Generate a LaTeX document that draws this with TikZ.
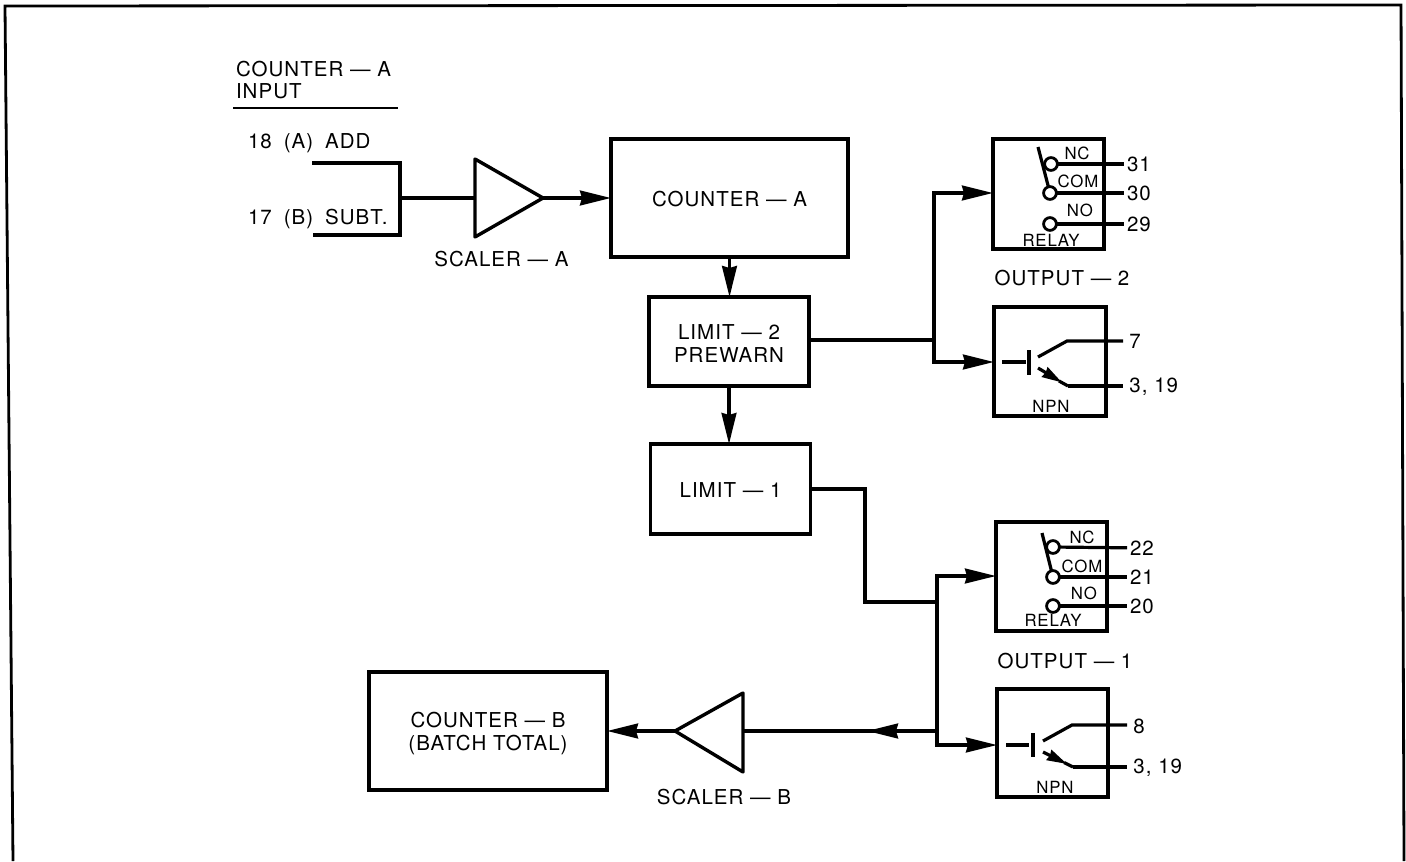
\documentclass[tikz,border=0pt]{standalone}
\usepackage{fontspec}
\setmainfont[LetterSpace=5]{TeX Gyre Heros}
\usetikzlibrary{arrows.meta}
\newcommand{\bl}{\fontsize{10.25}{11.7}\selectfont}
\newcommand{\sm}{\fontsize{8.4}{10}\selectfont}
\newcommand{\dn}[1]{\rule{0pt}{#1pt}}
\tikzset{
  x=0.5pt,y=-0.5pt,
  wire/.style={line width=1.6pt,line join=miter},
  head/.style={wire,-{Stealth[length=15.5pt,width=7.4pt,inset=1pt]}},
  smallhead/.style={wire,-{Stealth[length=10pt,width=5.5pt,inset=0.5pt]}},
  boxline/.style={line width=1.7pt},
  blockbox/.style={draw,boxline,inner sep=0pt,align=center,font=\bl,outer sep=0pt},
  lbl/.style={inner sep=0pt,outer sep=0pt,font=\bl,align=center},
  smlbl/.style={inner sep=0pt,outer sep=0pt,font=\sm},
  term/.style={inner sep=0pt,outer sep=1.5pt,font=\bl,anchor=west},
  termfar/.style={term,outer sep=3.2pt},
  contact/.style={circle,draw,line width=1.4pt,minimum size=6.4pt,inner sep=0pt,outer sep=0pt},
  frameline/.style={line width=1.4pt}
}
\begin{document}
\begin{tikzpicture}
\useasboundingbox (0,0) rectangle (1406,861);
% frame
\draw[frameline] (13,861) -- (5,6) -- (1401,5) -- (1404,861);
% input header
\node[lbl,anchor=west] (h1) at (236,69) {COUNTER — A};
\node[lbl,anchor=west] (h2) at (236,91) {INPUT};
\coordinate (ula) at (233,108);
\coordinate (ulb) at (398,108);
\draw[line width=0.9pt] (ula) -- (ulb);
\node[lbl,anchor=west] (inA) at (248,143) {18\hspace{6pt}(A)\hspace{6pt}ADD};
\node[lbl,anchor=west] (inB) at (248,219) {17\hspace{6pt}(B)\hspace{6pt}SUBT.};
% blocks
\node[blockbox,minimum width=118.5pt,minimum height=59pt] (ca) at (729.5,198) {\dn{8.3}COUNTER — A};
\node[blockbox,minimum width=80pt,minimum height=44.5pt] (l2) at (729,341.5) {\dn{9.5}LIMIT — 2\\PREWARN};
\node[blockbox,minimum width=80pt,minimum height=45pt] (l1) at (730.5,489) {\dn{8.3}LIMIT — 1};
\node[blockbox,minimum width=119pt,minimum height=59pt] (cb) at (488,731) {\dn{10.3}COUNTER — B\\(BATCH TOTAL)};
% scaler A
\coordinate (sai) at (475,198);
\coordinate (sao) at (543,198);
\draw[boxline,line join=round] (475,159) -- (sao) -- (475,237) -- cycle;
\node[lbl] (salbl) at (501.5,259) {SCALER — A};
% scaler B
\coordinate (sbi) at (743,731);
\coordinate (sbo) at (675,731);
\draw[boxline,line join=round] (743,693) -- (sbo) -- (743,772) -- cycle;
\node[lbl] (sblbl) at (724,797) {SCALER — B};
% input wires
\coordinate (ia) at (312,163);
\coordinate (ib) at (313,235);
\coordinate (ic) at (400,198);
\draw[wire] (ia) -- (ia -| ic) -- (ib -| ic) -- (ib);
\draw[wire] (ic) -- (sai);
\draw[head] (sao) -- (ca.west);
% block wires
\draw[head] (ca.south) -- (ca.south |- l2.north);
\draw[head] (l2.south) -- (l2.south |- l1.north);
% limit 2 outputs
\coordinate (j2) at (934,340);
\coordinate (r2in) at (993,193);
\coordinate (n2in) at (994,362);
\draw[wire] (l2.east |- j2) -- (j2);
\draw[head] (j2) -- (j2 |- r2in) -- (r2in);
\draw[head] (j2) -- (j2 |- n2in) -- (n2in);
% limit 1 outputs
\coordinate (t1) at (865,489);
\coordinate (j1) at (937,602);
\coordinate (r1in) at (996,576);
\coordinate (n1in) at (997,745);
\coordinate (sbtip) at (867,731);
\draw[wire] (l1.east) -- (t1) -- (t1 |- j1) -- (j1);
\draw[head] (j1) -- (j1 |- r1in) -- (r1in);
\draw[head] (j1) -- (j1 |- n1in) -- (n1in);
\draw[wire] (j1 |- sbtip) -- (sbi);
\draw[head] (j1 |- sbtip) -- (sbtip);
\draw[head] (sbo) -- (cb.east);
% relay 2
\draw[boxline] (993,139) rectangle (1104,249);
\node[contact] (c31) at (1051,164) {};
\node[contact] (c30) at (1050,193) {};
\node[contact] (c29) at (1050,224) {};
\node[term] (t31) at (1124,164) {31};
\node[term] (t30) at (1124,193) {30};
\node[term] (t29) at (1124,224) {29};
\draw[wire] (c31) -- (t31);
\draw[wire] (c30) -- (t30);
\draw[wire] (c29) -- (t29);
\draw[wire] (1038,147) -- (c30);
\node[smlbl] (nc2) at (1077,153) {NC};
\node[smlbl] (com2) at (1078,181) {COM};
\node[smlbl] (no2) at (1080,210) {NO};
\node[smlbl] (rl2) at (1051,240) {RELAY};
\node[lbl] (o2) at (1062,278) {OUTPUT — 2};
% npn 2
\draw[boxline] (994,307) rectangle (1106,416);
\draw[wire] (1002,362) -- (1026,362);
\draw[wire] (1029,350) -- (1029,375);
\node[termfar] (t7) at (1123,341) {7};
\node[termfar] (t3a) at (1123,387) {3, 19};
\draw[wire] (1038,357) -- (1067,341) -- (t7);
\draw[wire] (1068,386) -- (t3a.west |- 1068,386);
\draw[smallhead] (1038,368) -- (1062,382.5);
\draw[wire] (1059,381) -- (1068,386);
\node[smlbl] (np2) at (1051,406) {NPN};
% relay 1
\draw[boxline] (996,522) rectangle (1107,631);
\node[contact] (c22) at (1053,547) {};
\node[contact] (c21) at (1053,577) {};
\node[contact] (c20) at (1053,606) {};
\node[term] (t22) at (1127,548) {22};
\node[term] (t21) at (1127,577) {21};
\node[term] (t20) at (1127,606) {20};
\draw[wire] (c22) -- (t22);
\draw[wire] (c21) -- (t21);
\draw[wire] (c20) -- (t20);
\draw[wire] (1042,533) -- (c21);
\node[smlbl] (nc1) at (1082,537) {NC};
\node[smlbl] (com1) at (1082,566) {COM};
\node[smlbl] (no1) at (1084,593) {NO};
\node[smlbl] (rl1) at (1053,620) {RELAY};
\node[lbl] (o1) at (1065,661) {OUTPUT — 1};
% npn 1
\draw[boxline] (997,689) rectangle (1108,797);
\draw[wire] (1006,745) -- (1029,745);
\draw[wire] (1033,733) -- (1033,757);
\node[termfar] (t8) at (1127,726) {8};
\node[termfar] (t3b) at (1127,768) {3, 19};
\draw[wire] (1043,741) -- (1072,725) -- (t8.west |- 1072,725);
\draw[wire] (1073,767) -- (t3b.west |- 1073,767);
\draw[smallhead] (1043,752) -- (1067,764);
\draw[wire] (1064,762.5) -- (1073,767);
\node[smlbl] (np1) at (1055,787) {NPN};
\end{tikzpicture}
\end{document}
